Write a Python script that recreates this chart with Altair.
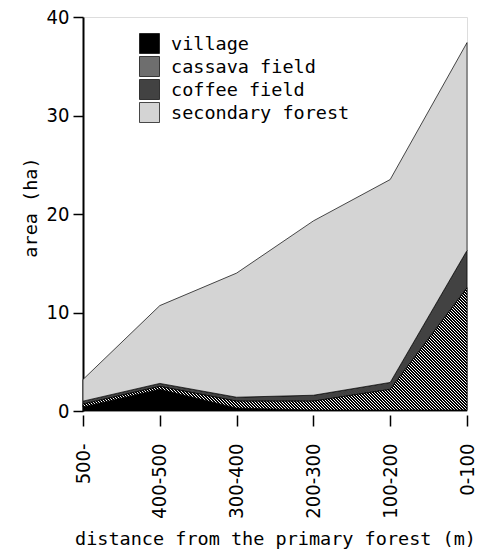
import math
import json
import altair as alt
import pandas as pd

# ---- data ----
distances = ["500-", "400-500", "300-400", "200-300", "100-200", "0-100"]
land_uses = ["village", "cassava field", "coffee field", "secondary forest"]
village = [0.4, 2.2, 0.3, 0.1, 0.1, 0.1]
cassava = [0.3, 0.3, 0.7, 0.9, 2.1, 12.4]
coffee = [0.3, 0.3, 0.4, 0.6, 0.7, 3.8]
secondary = [2.2, 7.9, 12.6, 17.7, 20.6, 21.1]
fills = ["#000000", "#6e6e6e", "#424242", "#d4d4d4"]
y_ticks = [0, 10, 20, 30, 40]

series = [village, cassava, coffee, secondary]
rows = []
for k, (name, vals) in enumerate(zip(land_uses, series)):
    for d, v in zip(distances, vals):
        rows.append({"distance": d, "land use": name, "area": v, "order": k})
df = pd.DataFrame(rows)

MONO = "DejaVu Sans Mono"
NARROW = "Liberation Sans Narrow, DejaVu Sans Condensed, Arial Narrow, sans-serif"

PLOT_W, PLOT_H = 384, 394
Y_MAX = 40
P = 3 / math.sqrt(2)          # hatch period perpendicular to the lines (3 px horizontally)
DUTY = 0.6


def hatch_spec(w, h):
    """45-degree (\\\\) black/white stripes for a box of w x h pixels."""
    k = h / w
    extent = (w + h) / math.sqrt(2)
    n = int(math.ceil(extent / P)) + 1
    L = n * P
    s = L * math.sqrt(2) / (w * (1 + k * k))
    stops = []
    for i in range(n):
        a, m, b = i / n, (i + DUTY) / n, (i + 1) / n
        stops += [
            {"color": "#000000", "offset": a},
            {"color": "#000000", "offset": m},
            {"color": "#ffffff", "offset": m},
            {"color": "#ffffff", "offset": b},
        ]
    return {"gradient": "linear", "stops": stops,
            "x1": 1.0, "y1": 0.0, "x2": 1.0 - s, "y2": s * k}


cum_v = list(village)
cum_c = [a + b for a, b in zip(village, cassava)]
bb_top = PLOT_H - max(cum_c) / Y_MAX * PLOT_H
bb_bot = PLOT_H - min(cum_v) / Y_MAX * PLOT_H
hs = hatch_spec(PLOT_W, bb_bot - bb_top)
hatch = alt.LinearGradient(
    gradient="linear",
    stops=[alt.GradientStop(**st) for st in hs["stops"]],
    x1=hs["x1"], y1=hs["y1"], x2=hs["x2"], y2=hs["y2"],
)

# legend symbol fill: hatch for cassava, scale colour for the others
lh = hatch_spec(20, 20)
lh_expr = (
    "{gradient: 'linear', x1: %r, y1: %r, x2: %r, y2: %r, stops: [%s]}"
    % (lh["x1"], lh["y1"], lh["x2"], lh["y2"],
       ", ".join("{color: '%s', offset: %r}" % (st["color"], round(st["offset"], 5))
                 for st in lh["stops"]))
)
sym_fill_expr = "datum.value === 'cassava field' ? %s : scale('color', datum.value)" % lh_expr

x_enc = alt.X(
    "distance:N",
    sort=distances,
    scale=alt.Scale(type="point", padding=0),
    axis=alt.Axis(
        domain=False,
        ticks=True,
        tickSize=11,
        tickWidth=1.5,
        tickColor="black",
        offset=4,
        labelAngle=270,
        labelAlign="right",
        labelBaseline="middle",
        labelPadding=17,
        labelFont=NARROW,
        labelFontSize=20,
        labelColor="black",
        labelFlush=False,
        title="distance from the primary forest (m)",
        titleFont=MONO,
        titleFontSize=18.5,
        titleFontWeight="normal",
        titleColor="black",
        titleBaseline="alphabetic",
        titleY=129,
    ),
)
y_scale = alt.Scale(domain=[0, Y_MAX], nice=False)

base_layer = alt.Chart(df).mark_area(
    stroke="black", strokeWidth=0.7, interpolate="linear", opacity=1
).encode(
    x=x_enc,
    y=alt.Y(
        "area:Q",
        stack="zero",
        scale=y_scale,
        axis=alt.Axis(
            values=y_ticks,
            grid=False,
            domain=True,
            domainWidth=2,
            domainColor="black",
            tickSize=10,
            tickWidth=1.5,
            tickColor="black",
            labelFont=NARROW,
            labelFontSize=20,
            labelColor="black",
            labelPadding=4,
            title="area (ha)",
            titleFont=MONO,
            titleFontSize=18.5,
            titleFontWeight="normal",
            titleColor="black",
            titleAngle=270,
            titleAlign="center",
            titleBaseline="alphabetic",
            titleX=-47,
            titleY=190,
        ),
    ),
    color=alt.Color(
        "land use:N",
        scale=alt.Scale(domain=land_uses, range=fills),
        legend=alt.Legend(
            title=None,
            orient="none",
            legendX=56,
            legendY=16,
            symbolType="square",
            symbolSize=400,
            symbolStrokeColor="black",
            symbolStrokeWidth=0.7,
            symbolOpacity=1,
            symbolFillColor=alt.ExprRef(sym_fill_expr),
            labelFont=MONO,
            labelFontSize=18.5,
            labelColor="black",
            labelOffset=11,
            labelLimit=0,
            rowPadding=0,
            padding=0,
        ),
    ),
    order=alt.Order("order:Q"),
)

hatch_layer = alt.Chart(df).transform_stack(
    stack="area",
    groupby=["distance"],
    sort=[alt.SortField("order", order="ascending")],
    as_=["y0", "y1"],
).transform_filter(
    alt.datum["land use"] == "cassava field"
).mark_area(
    fill=hatch, stroke="black", strokeWidth=0.7, interpolate="linear", opacity=1
).encode(
    x=alt.X("distance:N", sort=distances, scale=alt.Scale(type="point", padding=0)),
    y=alt.Y("y1:Q", scale=y_scale),
    y2="y0:Q",
)

chart = alt.layer(base_layer, hatch_layer).properties(
    width=PLOT_W,
    height=PLOT_H,
    autosize=alt.AutoSizeParams(type="none"),
    padding={"left": 83, "top": 17, "right": 13, "bottom": 142},
).configure_view(stroke=None).configure(background="white")

chart.save("out.html", embed_options={"renderer": "svg", "actions": False})
